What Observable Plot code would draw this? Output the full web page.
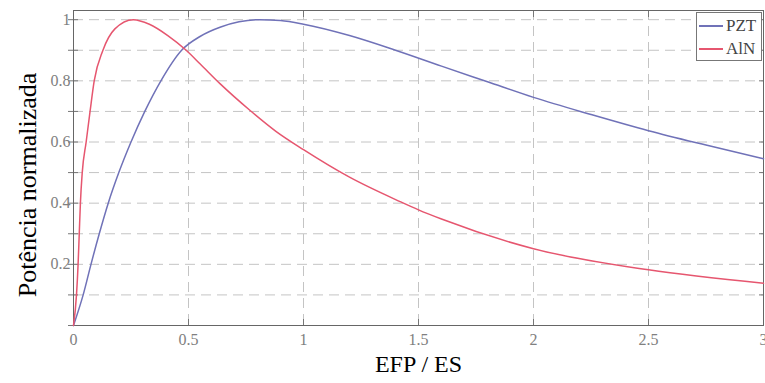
<!DOCTYPE html>
<html>
<head>
<meta charset="utf-8">
<script src="https://cdn.jsdelivr.net/npm/d3@7"></script>
<script src="https://cdn.jsdelivr.net/npm/@observablehq/plot@0.6"></script>
<style>
  html, body { margin: 0; padding: 0; background: #fff; }
  #wrap { position: relative; width: 765px; height: 383px; overflow: hidden; }
  #legend { position: absolute; left: 696px; top: 12px; width: 66px; height: 49px;
    border: 1px solid #777; background: #fff; font-family: "Liberation Serif", serif;
    font-size: 17px; color: #444; box-sizing: border-box; }
  .row { position: absolute; left: 2px; display: flex; align-items: center; }
  .sw { display: inline-block; width: 24px; height: 2px; margin-right: 3px; }
</style>
</head>
<body>
<div id="wrap"></div>
<script>
// ---- data ----
const pztX = [0, 0.042, 0.076, 0.112, 0.151, 0.197, 0.25, 0.31, 0.38, 0.47, 0.55, 0.64, 0.72, 0.81, 0.9, 1.0, 1.2, 1.4, 1.6, 1.8, 2.0, 2.25, 2.5, 2.75, 3.0];
const pztY = [0, 0.1, 0.2, 0.3, 0.4, 0.5, 0.6, 0.7, 0.8, 0.9, 0.945, 0.976, 0.993, 1.0, 0.997, 0.985, 0.948, 0.9, 0.848, 0.797, 0.746, 0.69, 0.637, 0.59, 0.545];
const alnX = [0, 0.013, 0.02, 0.025, 0.03, 0.038, 0.055, 0.072, 0.09, 0.128, 0.18, 0.26, 0.33, 0.41, 0.49, 0.551, 0.638, 0.768, 0.88, 1.0, 1.2, 1.42, 1.5, 1.6, 2.0, 2.5, 3.0];
const alnY = [0, 0.1, 0.2, 0.3, 0.4, 0.5, 0.6, 0.7, 0.8, 0.9, 0.97, 1.0, 0.985, 0.948, 0.9, 0.855, 0.79, 0.703, 0.635, 0.575, 0.485, 0.405, 0.378, 0.348, 0.251, 0.182, 0.138];
const seriesNames = ["PZT", "AlN"];
const seriesColors = ["#7072b8", "#e6566f"];
const xTicks = [0, 0.5, 1, 1.5, 2, 2.5, 3];
const xTickLabels = ["0", "0.5", "1", "1.5", "2", "2.5", "3"];
const yMinorTicks = [0, 0.1, 0.2, 0.3, 0.4, 0.5, 0.6, 0.7, 0.8, 0.9, 1];
const yTicks = [0.2, 0.4, 0.6, 0.8, 1];
const yTickLabels = ["0.2", "0.4", "0.6", "0.8", "1"];
const xLabel = "EFP / ES";
const yLabel = "Potência normalizada";

const rows = [
  ...pztX.map((x, i) => ({x, y: pztY[i], s: seriesNames[0]})),
  ...alnX.map((x, i) => ({x, y: alnY[i], s: seriesNames[1]}))
];

const gridStyle = {stroke: "#c4c4c4", strokeOpacity: 1, strokeDasharray: "10,6"};
const tickFont = {fontFamily: "Liberation Serif, serif", fontSize: 16, fill: "#808080"};

const chart = Plot.plot({
  width: 765, height: 383,
  marginLeft: 73, marginRight: 2, marginTop: 10, marginBottom: 58,
  style: {background: "#fff", overflow: "visible"},
  x: {domain: [0, 3]},
  y: {domain: [0, 1.03]},
  color: {domain: seriesNames, range: seriesColors},
  marks: [
    Plot.gridY(yMinorTicks.filter(d => d > 0), gridStyle),
    Plot.gridX(xTicks.filter(d => d > 0 && d < 3), gridStyle),
    Plot.axisY(yMinorTicks, {tickSize: 5, tickFormat: () => "", label: null, stroke: "#777"}),
    Plot.axisY(yMinorTicks, {tickSize: -5, tickFormat: () => "", label: null, stroke: "#777"}),
    Plot.axisY(yMinorTicks, {anchor: "right", tickSize: -5, tickFormat: () => "", label: null, stroke: "#777"}),
    Plot.axisY(yTicks, {tickSize: 0, tickPadding: 3, tickFormat: (d, i) => yTickLabels[i], label: null, ...tickFont}),
    Plot.axisX(xTicks, {tickSize: -6, tickFormat: () => "", label: null, stroke: "#777"}),
    Plot.axisX(xTicks, {anchor: "top", tickSize: -6, tickFormat: () => "", label: null, stroke: "#777"}),
    Plot.axisX(xTicks, {tickSize: 0, tickPadding: 8, tickFormat: (d, i) => xTickLabels[i], label: null, ...tickFont}),
    Plot.frame({stroke: "#666"}),
    Plot.line(rows, {x: "x", y: "y", z: "s", stroke: "s", strokeWidth: 1.5, curve: "monotone-x"}),
    Plot.text([yLabel], {frameAnchor: "left", textAnchor: "middle", dx: -46, dy: 17, rotate: -90, fontSize: 26, fontFamily: "Liberation Serif, serif", fill: "#000"}),
    Plot.text([xLabel], {frameAnchor: "bottom", textAnchor: "middle", dy: 46, fontSize: 24, fontFamily: "Liberation Serif, serif", fill: "#000"})
  ]
});

const wrap = document.getElementById("wrap");
wrap.appendChild(chart);

const legend = document.createElement("div");
legend.id = "legend";
seriesNames.forEach((name, i) => {
  const r = document.createElement("div");
  r.className = "row";
  r.style.top = (i === 0 ? 3 : 26) + "px";
  const sw = document.createElement("span");
  sw.className = "sw";
  sw.style.background = seriesColors[i];
  const t = document.createElement("span");
  t.textContent = name;
  r.appendChild(sw); r.appendChild(t);
  legend.appendChild(r);
});
wrap.appendChild(legend);
</script>
</body>
</html>
